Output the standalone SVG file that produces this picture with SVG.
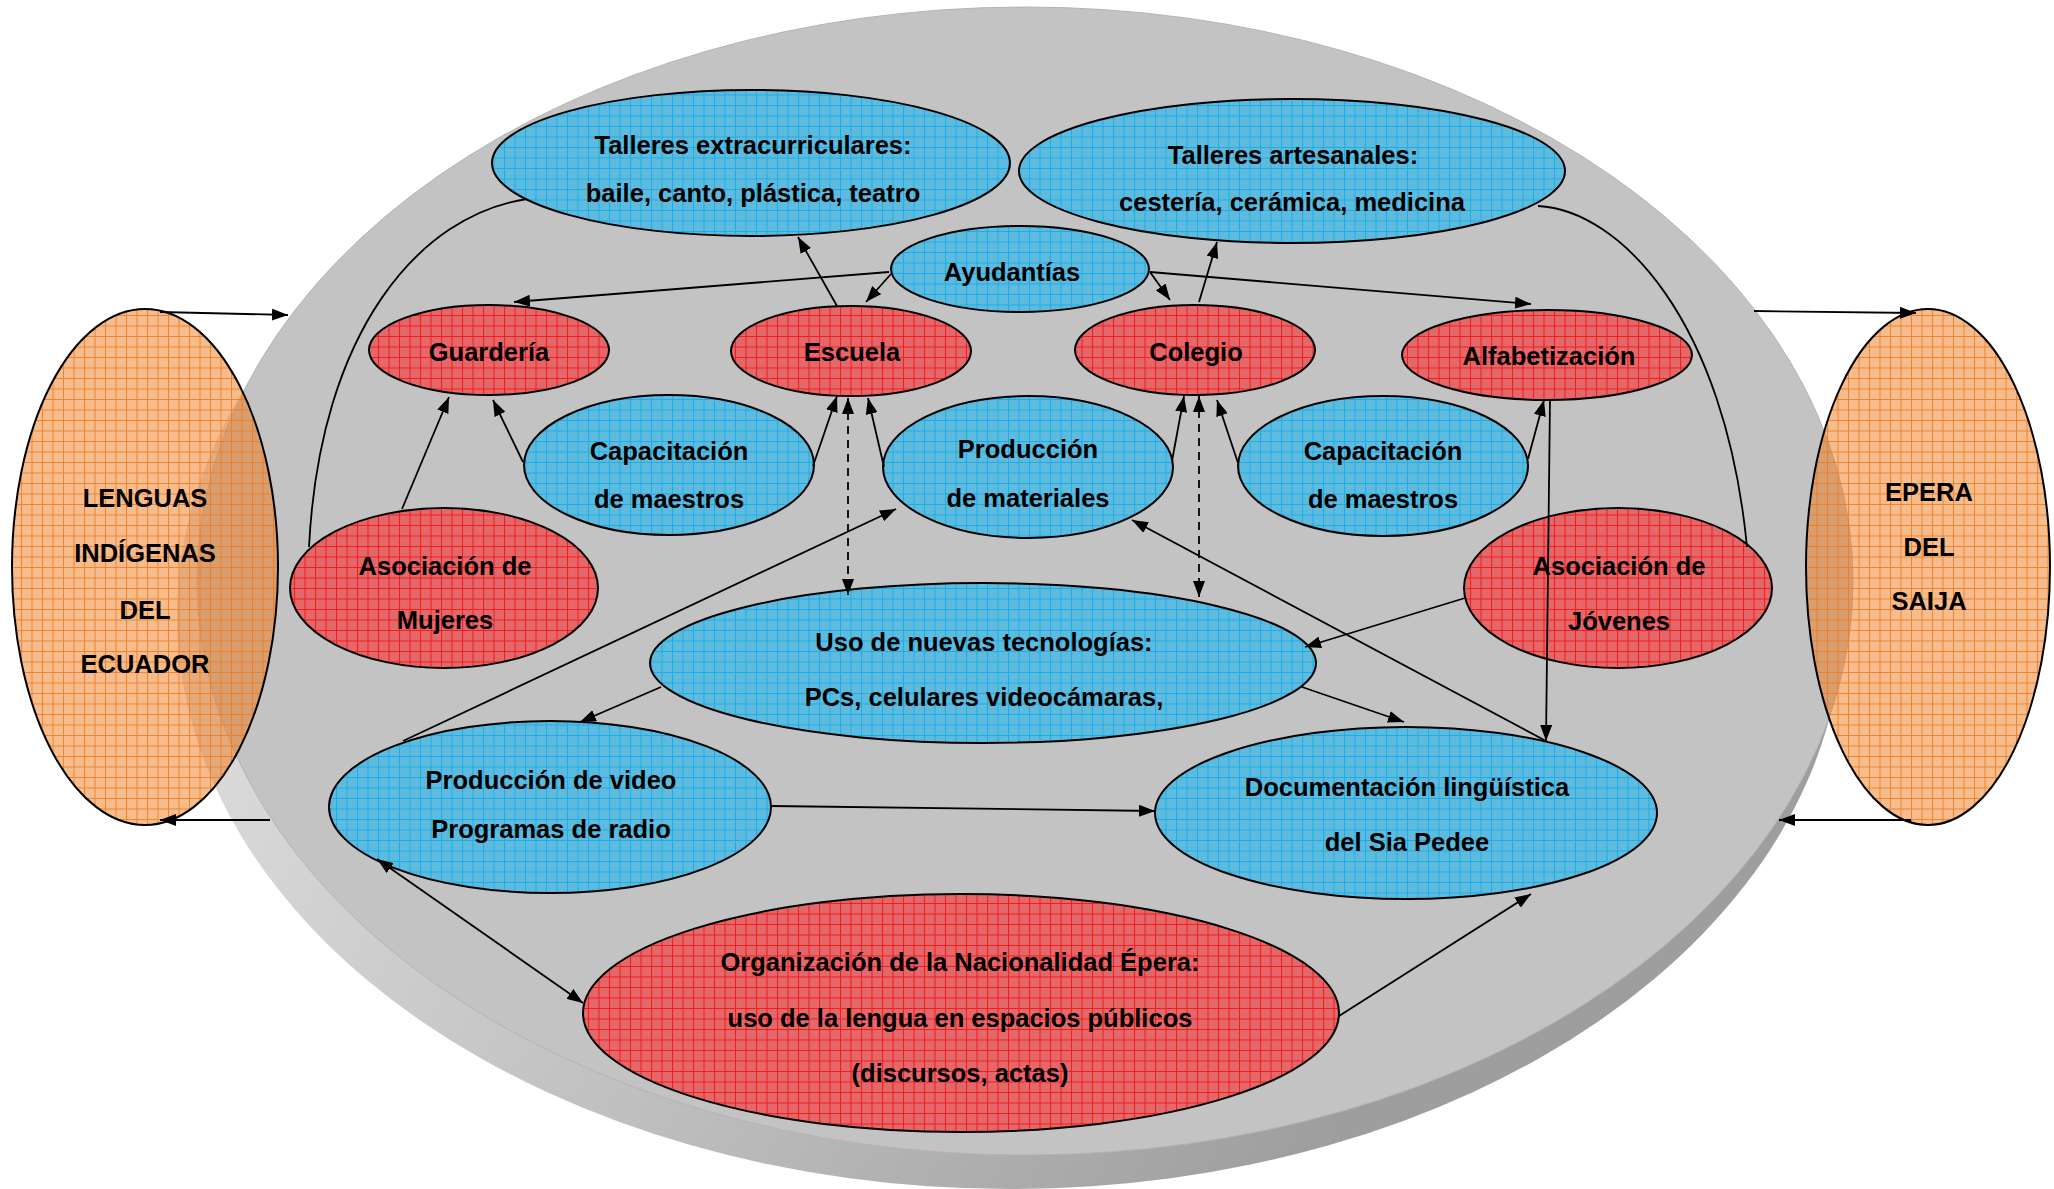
<svg xmlns="http://www.w3.org/2000/svg" width="2054" height="1189" viewBox="0 0 2054 1189">
<style>
.t{font-family:"Liberation Sans",Arial,Helvetica,sans-serif;font-weight:bold;font-size:25.5px;text-anchor:middle;fill:#000}
.nr{fill:url(#gridR);stroke:#000;stroke-width:2}
.nb{fill:url(#gridB);stroke:#000;stroke-width:2}
.no{fill:url(#gridO);stroke:#000;stroke-width:2}
.c{fill:none;stroke:#000;stroke-width:1.8;marker-end:url(#ah)}
.p{fill:none;stroke:#000;stroke-width:1.8}
.d{fill:none;stroke:#000;stroke-width:1.8;stroke-dasharray:8 6;marker-end:url(#ah);marker-start:url(#ah)}
.b{fill:none;stroke:#000;stroke-width:1.8;marker-end:url(#ah);marker-start:url(#ah)}
.s{fill:url(#side)}
</style>
<defs>
<pattern id="gridR" width="10.5" height="10.5" patternUnits="userSpaceOnUse">
<rect width="10.5" height="10.5" fill="#E4676A"/>
<path d="M0 0.5H10.5M0.5 0V10.5" stroke="#F41C1C" stroke-width="1"/>
</pattern>
<pattern id="gridB" width="10.5" height="10.5" patternUnits="userSpaceOnUse">
<rect width="10.5" height="10.5" fill="#5EBBDE"/>
<path d="M0 0.5H10.5M0.5 0V10.5" stroke="#1AAEEA" stroke-width="1"/>
</pattern>
<pattern id="gridO" width="10.5" height="10.5" patternUnits="userSpaceOnUse">
<rect width="10.5" height="10.5" fill="#EE7A1A" fill-opacity="0.5"/>
<path d="M0 0.5H10.5M0.5 0V10.5" stroke="#EC7A20" stroke-opacity="0.85" stroke-width="1"/>
</pattern>
<linearGradient id="side" gradientUnits="userSpaceOnUse" x1="250" y1="600" x2="1300" y2="1190">
<stop offset="0" stop-color="#DCDCDC"/>
<stop offset="0.6" stop-color="#B8B8B8"/>
<stop offset="1" stop-color="#9E9E9E"/>
</linearGradient>
<marker id="ah" markerUnits="userSpaceOnUse" markerWidth="16" markerHeight="12" refX="16" refY="6" orient="auto-start-reverse" viewBox="0 0 16 12">
<path d="M0 0L16 6L0 12z" fill="#000"/>
</marker>
</defs>

<g id="background">
<ellipse class="s" cx="1017" cy="599" rx="830" ry="574"/>
<ellipse class="s" cx="1010" cy="615" rx="833" ry="574"/>
<ellipse cx="1025" cy="581" rx="828" ry="574" fill="#C3C3C3" stroke="#B4B4B4" stroke-width="1"/>
</g>

<g id="n-talleres-extra"><ellipse class="nb" cx="751" cy="163" rx="259" ry="73"/><text class="t" x="753" y="154">Talleres extracurriculares:</text><text class="t" x="753" y="202">baile, canto, plástica, teatro</text></g>
<g id="n-talleres-art"><ellipse class="nb" cx="1292" cy="171" rx="273" ry="72"/><text class="t" x="1293" y="164">Talleres artesanales:</text><text class="t" x="1292" y="211">cestería, cerámica, medicina</text></g>
<g id="n-ayudantias"><ellipse class="nb" cx="1020" cy="269" rx="129" ry="43"/><text class="t" x="1012" y="281">Ayudantías</text></g>
<g id="n-guarderia"><ellipse class="nr" cx="489" cy="350" rx="120" ry="45"/><text class="t" x="489" y="361">Guardería</text></g>
<g id="n-escuela"><ellipse class="nr" cx="851" cy="351" rx="120" ry="45"/><text class="t" x="852" y="361">Escuela</text></g>
<g id="n-colegio"><ellipse class="nr" cx="1195" cy="350" rx="120" ry="45"/><text class="t" x="1196" y="361">Colegio</text></g>
<g id="n-alfabetizacion"><ellipse class="nr" cx="1547" cy="355" rx="145" ry="45"/><text class="t" x="1549" y="365">Alfabetización</text></g>
<g id="n-capacitacion-1"><ellipse class="nb" cx="669" cy="465" rx="145" ry="70"/><text class="t" x="669" y="460">Capacitación</text><text class="t" x="669" y="508">de maestros</text></g>
<g id="n-produccion-mat"><ellipse class="nb" cx="1028" cy="467" rx="145" ry="71"/><text class="t" x="1028" y="458">Producción</text><text class="t" x="1028" y="507">de materiales</text></g>
<g id="n-capacitacion-2"><ellipse class="nb" cx="1383" cy="466" rx="145" ry="70"/><text class="t" x="1383" y="460">Capacitación</text><text class="t" x="1383" y="508">de maestros</text></g>
<g id="n-asoc-mujeres"><ellipse class="nr" cx="444" cy="588" rx="154" ry="80"/><text class="t" x="445" y="575">Asociación de</text><text class="t" x="445" y="629">Mujeres</text></g>
<g id="n-asoc-jovenes"><ellipse class="nr" cx="1618" cy="588" rx="154" ry="80"/><text class="t" x="1619" y="575">Asociación de</text><text class="t" x="1619" y="630">Jóvenes</text></g>
<g id="n-nuevas-tec"><ellipse class="nb" cx="983" cy="663" rx="333" ry="80"/><text class="t" x="984" y="651">Uso de nuevas tecnologías:</text><text class="t" x="984" y="706">PCs, celulares videocámaras,</text></g>
<g id="n-produccion-video"><ellipse class="nb" cx="550" cy="807" rx="221" ry="86"/><text class="t" x="551" y="789">Producción de video</text><text class="t" x="551" y="838">Programas de radio</text></g>
<g id="n-documentacion"><ellipse class="nb" cx="1406" cy="813" rx="251" ry="86"/><text class="t" x="1407" y="796">Documentación lingüística</text><text class="t" x="1407" y="851">del Sia Pedee</text></g>
<g id="n-organizacion"><ellipse class="nr" cx="961" cy="1013" rx="378" ry="119"/><text class="t" x="960" y="971">Organización de la Nacionalidad Épera:</text><text class="t" x="960" y="1027">uso de la lengua en espacios públicos</text><text class="t" x="960" y="1082">(discursos, actas)</text></g>
<g id="n-lenguas-ecuador"><ellipse class="no" cx="145" cy="567" rx="133" ry="258"/><text class="t" x="145" y="507">LENGUAS</text><text class="t" x="145" y="562">INDÍGENAS</text><text class="t" x="145" y="619">DEL</text><text class="t" x="145" y="673">ECUADOR</text></g>
<g id="n-epera-saija"><ellipse class="no" cx="1928" cy="567" rx="122" ry="258"/><text class="t" x="1929" y="501">EPERA</text><text class="t" x="1929" y="556">DEL</text><text class="t" x="1929" y="610">SAIJA</text></g>

<g id="connectors">
<path class="c" d="M837 306L798 237"/>
<path class="c" d="M889 272L514 302"/>
<path class="c" d="M891 274L866 302"/>
<path class="c" d="M1150 272L1170 300"/>
<path class="c" d="M1150 272L1531 304"/>
<path class="c" d="M1199 302L1217 242"/>
<path class="c" d="M402 509L449 397"/>
<path class="c" d="M523 462L493 400"/>
<path class="c" d="M813 466L837 396"/>
<path class="c" d="M884 467L868 398"/>
<path class="d" d="M848 398L848 595"/>
<path class="c" d="M1172 461L1184 396"/>
<path class="d" d="M1199 396L1199 597"/>
<path class="c" d="M1238 463L1217 400"/>
<path class="c" d="M1528 459L1544 400"/>
<path class="c" d="M1550 400L1546 741"/>
<path class="p" d="M527 199C420 215 320 330 309 547"/>
<path class="p" d="M1538 206C1620 210 1725 320 1747 547"/>
<path class="c" d="M1465 598L1305 647"/>
<path class="c" d="M403 741L896 509"/>
<path class="c" d="M1546 741L1132 520"/>
<path class="c" d="M661 687L580 722"/>
<path class="c" d="M1302 687L1404 722"/>
<path class="c" d="M771 806L1155 811"/>
<path class="b" d="M377 859L583 1003"/>
<path class="c" d="M1339 1016L1531 894"/>
<path class="c" d="M160 312L288 315"/>
<path class="c" d="M270 820L160 820"/>
<path class="c" d="M1754 311L1916 313"/>
<path class="c" d="M1911 820L1779 820"/>
</g>
</svg>
